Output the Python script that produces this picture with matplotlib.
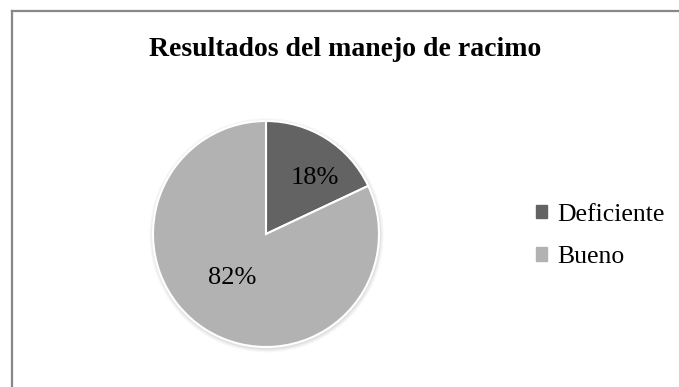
import matplotlib.pyplot as plt
from matplotlib.lines import Line2D
from matplotlib.patches import Circle

labels = ['Deficiente', 'Bueno']
values = [18, 82]
colors = ['#636363', '#b2b2b2']
pct_pos = [(0.43, 0.50), (-0.30, -0.39)]

plt.rcParams['font.family'] = ['Liberation Serif', 'DejaVu Serif']

W, H = 679, 387
fig = plt.figure(figsize=(W / 100, H / 100), dpi=100)

# borde del gráfico (solo arriba e izquierda visibles)
fig.add_artist(Line2D([11.5 / W, 11.5 / W], [0, 1 - 11 / H], transform=fig.transFigure,
                      color='#888888', linewidth=1.6))
fig.add_artist(Line2D([11.5 / W, 1], [1 - 11 / H, 1 - 11 / H], transform=fig.transFigure,
                      color='#888888', linewidth=1.6))

fig.text(345 / W, 1 - 50 / H, 'Resultados del manejo de racimo', ha='center', va='center',
         fontsize=20, fontweight='bold')

cx, cy, R = 266, 234, 113
m = 1.06
ax = fig.add_axes([(cx - R * m) / W, (H - cy - R * m) / H, 2 * R * m / W, 2 * R * m / H])
ax.axis('off')

# sombra suave
for i, a in enumerate([0.05, 0.04, 0.03]):
    ax.add_patch(Circle((0.005, -0.012), 1.0 + 0.012 * (i + 1), color='#000000', alpha=a,
                        linewidth=0, zorder=0))

wedges, _ = ax.pie(values, colors=colors, startangle=90, counterclock=False, radius=1,
                   wedgeprops=dict(edgecolor='white', linewidth=1.5), frame=False)
ax.set_xlim(-m, m)
ax.set_ylim(-m, m)
ax.set_aspect('equal')

for v, (x, y) in zip(values, pct_pos):
    ax.text(x, y, f'{v}%', ha='center', va='center', fontsize=19, color='black')

handles = [plt.Rectangle((0, 0), 1, 1, color=c) for c in colors]
fig.legend(handles, labels, loc='center left', bbox_to_anchor=(526 / W, 1 - 236 / H),
           frameon=False, fontsize=18.5, handlelength=0.42, handleheight=0.42,
           handletextpad=0.38, labelspacing=0.78, borderaxespad=0)

fig.savefig('out.png', dpi=100, facecolor='white')
